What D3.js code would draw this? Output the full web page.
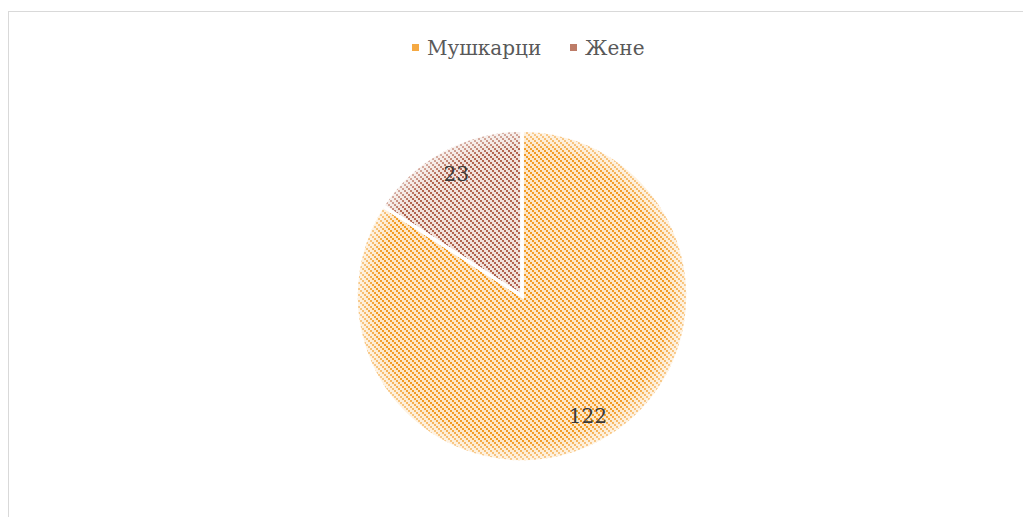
<!DOCTYPE html>
<html>
<head>
<meta charset="utf-8">
<script src="https://cdn.jsdelivr.net/npm/d3@7"></script>
<style>
  body { margin: 0; background: #fff; }
  svg { display: block; }
</style>
</head>
<body>
<div id="chart"></div>
<script>
// data
var categories = ["Мушкарци", "Жене"];
var values = [122, 23];
var stripeColors = ["#f39a22", "#b1654e"];
var bgColors = ["#fde7c8", "#f1e2dc"];

var width = 1023, height = 517;
var cx = 522, cy = 296, radius = 166;

var svg = d3.select("#chart")
  .append("svg")
    .attr("width", width)
    .attr("height", height);

// chart area border (left + top visible)
svg.append("rect")
  .attr("x", 8.5).attr("y", 11.5)
  .attr("width", width + 20).attr("height", height + 20)
  .attr("fill", "none")
  .attr("stroke", "#d9d9d9")
  .attr("stroke-width", 1);

var defs = svg.append("defs");

// stepped diagonal patterns (2px blocks), one per slice
var tile = 6;
categories.forEach(function(c, i) {
  var p = defs.append("pattern")
    .attr("id", "pat" + i)
    .attr("patternUnits", "userSpaceOnUse")
    .attr("width", tile).attr("height", tile);
  p.append("rect").attr("width", tile).attr("height", tile).attr("fill", bgColors[i]);
  [0, 2, 4].forEach(function(k) {
    p.append("rect").attr("x", k).attr("y", k).attr("width", 2).attr("height", 2)
      .attr("fill", stripeColors[i]).attr("shape-rendering", "crispEdges");
  });
});

// soft edge overlay
var soft = defs.append("radialGradient").attr("id", "soft");
soft.append("stop").attr("offset", "0.88").attr("stop-color", "#fff").attr("stop-opacity", 0);
soft.append("stop").attr("offset", "1").attr("stop-color", "#fff").attr("stop-opacity", 0.55);

var pie = d3.pie().sort(null).value(function(d) { return d; });
var arcs = pie(values);

var arc = d3.arc().innerRadius(0).outerRadius(radius);
var labelArc = d3.arc().innerRadius(radius * 0.83).outerRadius(radius * 0.83);

var g = svg.append("g")
  .attr("transform", "translate(" + cx + "," + cy + ")");

g.selectAll("path.slice")
  .data(arcs)
  .enter()
  .append("path")
    .attr("class", "slice")
    .attr("d", arc)
    .attr("fill", function(d, i) { return "url(#pat" + i + ")"; });

g.append("circle")
  .attr("r", radius)
  .attr("fill", "url(#soft)")
  .attr("pointer-events", "none");

// white separators above the overlay
g.selectAll("path.sep")
  .data(arcs)
  .enter()
  .append("path")
    .attr("class", "sep")
    .attr("d", arc)
    .attr("fill", "none")
    .attr("stroke", "#fff")
    .attr("stroke-width", 3.5);

// data labels
g.selectAll("text.lbl")
  .data(arcs)
  .enter()
  .append("text")
    .attr("class", "lbl")
    .attr("transform", function(d) { return "translate(" + labelArc.centroid(d) + ")"; })
    .attr("text-anchor", "middle")
    .attr("dy", "0.3em")
    .style("font-family", "'DejaVu Serif', serif")
    .style("font-size", "20px")
    .attr("fill", "#3a3a3a")
    .text(function(d) { return d.data; });

// legend
var legend = svg.append("g");
var legX = [412, 570];
categories.forEach(function(c, i) {
  legend.append("rect")
    .attr("x", legX[i]).attr("y", 44)
    .attr("width", 7).attr("height", 7)
    .attr("fill", stripeColors[i])
    .attr("opacity", 0.85);
  legend.append("text")
    .attr("x", legX[i] + 15).attr("y", 48)
    .attr("dy", "0.35em")
    .style("font-family", "'DejaVu Serif', serif")
    .style("font-size", "20px")
    .attr("fill", "#595959")
    .text(c);
});
</script>
</body>
</html>
